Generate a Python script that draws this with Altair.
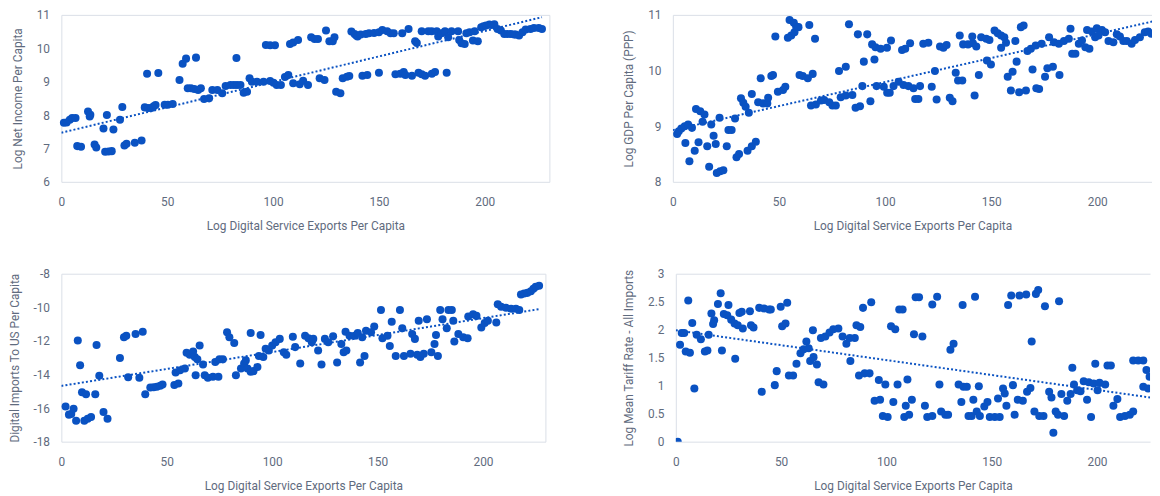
import altair as alt
import pandas as pd

BLUE = "#0a52c2"
FRAME = "#d9dee7"
TEXT = "#5f6b7e"
FONT = "Roboto"

X_TITLE = "Log Digital Service Exports Per Capita"
X_TICKS = [0, 50, 100, 150, 200]

# ---- Panel 1: Log Net Income Per Capita ----
p1_x = [1.2, 2.5, 4.0, 5.1, 6.7, 7.5, 9.3, 12.6, 13.4, 13.7, 15.7, 16.5, 19.9, 20.7, 21.5, 22.3, 23.8, 24.6,
        27.7, 28.8, 29.8, 30.8, 34.7, 37.9, 39.4, 40.5, 41.0, 42.5, 43.6, 44.5, 45.8, 48.8, 50.3, 52.6, 55.8,
        57.3, 58.9, 59.7, 61.2, 62.8, 63.6, 64.6, 65.9, 67.4, 69.8, 71.3, 73.7, 76.0, 77.6, 79.9, 81.5, 82.7,
        83.0, 84.6, 86.1, 87.7, 88.9, 90.0, 92.4, 95.5, 96.6, 98.6, 98.6, 100.2, 100.9, 101.7, 103.7, 105.6,
        107.2, 108.0, 109.5, 109.5, 111.8, 112.6, 114.2, 116.5, 118.0, 119.6, 121.2, 122.0, 124.3, 125.0,
        126.6, 128.2, 129.0, 129.8, 131.8, 132.9, 134.9, 136.0, 137.0, 138.5, 139.3, 139.9, 141.4, 142.2,
        143.8, 144.5, 145.3, 147.7, 150.0, 150.0, 151.6, 153.9, 155.5, 157.0, 157.8, 160.1, 161.0, 161.7,
        162.5, 164.0, 165.6, 167.1, 167.9, 168.7, 170.2, 170.2, 171.8, 173.3, 174.9, 175.0, 176.5, 177.3,
        178.0, 179.6, 181.2, 182.0, 182.7, 184.3, 187.4, 187.9, 189.0, 190.5, 191.3, 192.8, 194.4, 195.2,
        196.7, 198.3, 199.4, 200.6, 202.2, 203.3, 204.5, 206.0, 207.6, 209.2, 210.7, 212.3, 213.9, 214.6,
        216.2, 217.8, 219.3, 221.6, 223.2, 225.5, 227.0]
p1_y = [7.77, 7.78, 7.86, 7.91, 7.91, 7.07, 7.05, 8.11, 7.96, 8.01, 7.12, 7.03, 7.60, 6.90, 8.00, 6.91, 6.92, 7.57,
        7.86, 8.24, 7.09, 7.14, 7.17, 7.24, 8.23, 9.24, 8.21, 8.21, 8.26, 8.30, 9.26, 8.31, 8.31, 8.33, 9.05,
        9.54, 9.69, 8.80, 8.80, 8.78, 9.72, 8.75, 8.80, 8.48, 8.50, 8.75, 8.75, 8.65, 8.87, 8.90, 8.90, 9.71,
        8.90, 8.90, 8.67, 8.70, 9.10, 9.00, 9.00, 9.00, 10.10, 10.09, 9.02, 8.97, 10.09, 8.90, 8.90, 9.14,
        9.20, 10.13, 10.17, 8.95, 10.25, 8.92, 9.03, 8.90, 10.33, 10.28, 10.28, 9.10, 9.05, 10.53,
        10.21, 10.21, 10.33, 8.70, 8.65, 9.10, 9.15, 9.17, 10.50, 10.43, 10.38, 10.35, 10.41, 9.18,
        10.43, 9.20, 10.45, 10.46, 10.48, 9.27, 10.55, 10.51, 10.45, 10.45, 9.22, 9.24, 10.45, 9.29,
        9.20, 10.58, 9.18, 10.21, 10.16, 9.27, 10.51, 9.22, 9.18, 10.51, 10.51, 9.24, 9.29, 10.51,
        10.35, 10.45, 10.51, 9.27, 10.33, 10.51, 10.51, 10.25, 10.15, 10.13, 10.45, 10.48, 10.23, 10.51,
        10.21, 10.63, 10.66, 10.68, 10.71, 10.70, 10.72, 10.58, 10.53, 10.43, 10.43, 10.43, 10.41, 10.41,
        10.38, 10.48, 10.56, 10.58, 10.61, 10.61, 10.58]

# ---- Panel 2: Log GDP Per Capita (PPP) ----
p2_x = [2.0, 2.8, 4.0, 5.6, 7.2, 9.0, 5.9, 7.8, 10.3, 10.9, 12.9, 14.9, 12.1, 14.0, 16.2, 17.1, 18.1, 19.2, 20.2,
        20.7, 22.3, 23.8, 22.0, 25.4, 26.2, 27.7, 29.3, 30.0, 31.2, 32.1, 33.2, 34.3, 35.8, 35.2, 37.2, 39.1,
        37.2, 40.2, 42.5, 44.5, 44.9, 41.4, 46.4, 47.2, 48.3, 49.5, 51.9, 53.0, 54.2, 55.8, 57.3, 58.1, 55.0,
        57.0, 59.2, 59.7, 61.2, 63.6, 65.9, 64.3, 67.0, 65.1, 67.4, 69.8, 71.3, 73.7, 75.2, 76.8, 78.3, 81.5,
        79.1, 81.5, 84.6, 83.0, 86.1, 88.2, 89.3, 87.2, 91.6, 90.0, 95.0, 93.1, 93.9, 95.5, 97.9, 100.9,
        102.8, 96.0, 99.4, 101.0, 102.2, 104.0, 106.4, 108.7, 111.0, 113.4, 116.5, 108.0, 109.5, 111.8,
        114.2, 115.7, 118.0, 120.4, 122.0, 123.5, 124.3, 125.9, 127.5, 129.0, 130.5, 131.8, 133.3, 134.4,
        136.4, 135.2, 136.8, 139.1, 141.4, 143.0, 141.1, 145.3, 147.7, 149.2, 142.2, 144.2, 148.0, 149.9,
        151.6, 153.1, 154.7, 156.2, 157.0, 154.7, 157.8, 160.1, 159.3, 163.2, 166.4, 161.4, 162.0, 164.0,
        165.3, 167.1, 168.7, 171.0, 173.8, 169.5, 171.3, 172.6, 175.4, 176.5, 179.1, 177.3, 179.6, 181.9,
        184.3, 186.6, 187.4, 182.2, 188.2, 189.7, 191.3, 192.8, 194.4, 196.3, 195.2, 197.5, 199.8, 202.2,
        203.7, 199.0, 200.6, 205.3, 207.6, 209.2, 210.7, 212.3, 213.9, 216.2, 217.8, 220.1, 222.4, 224.0,
        225.5, 227.0]
p2_y = [8.86, 8.91, 8.96, 9.00, 9.03, 8.97, 8.70, 8.37, 8.56, 9.31, 9.27, 9.21, 8.71, 9.08, 8.64, 8.27, 9.03, 8.83, 8.68,
        8.16, 8.19, 8.21, 9.15, 8.64, 8.93, 8.93, 9.14, 8.44, 8.50, 9.50, 9.42, 9.35, 9.24, 8.56, 8.64, 8.72,
        9.58, 9.43, 9.41, 9.41, 9.51, 9.86, 9.90, 9.92, 10.61, 9.62, 9.65, 9.71, 10.59, 10.63, 10.69, 10.79, 10.91,
        10.86, 10.78, 9.92, 9.90, 9.86, 9.94, 10.82, 10.57, 9.37, 9.39, 9.46, 9.47, 9.43, 9.37, 9.37, 9.99, 10.07,
        9.52, 9.55, 9.56, 10.83, 9.33, 9.36, 9.72, 10.65, 10.65, 10.16, 10.20, 9.45, 10.47, 10.42, 10.39, 10.41,
        10.54, 9.72, 9.71, 9.60, 9.60, 9.72, 9.80, 9.74, 9.72, 9.68, 9.72, 10.37, 10.39, 10.49,
        9.49, 9.49, 10.48, 10.50, 9.71, 9.99, 9.48, 10.43, 10.41, 10.46, 9.51, 9.45, 9.96, 9.82,
        9.82, 10.63, 10.47, 10.47, 10.49, 10.43, 10.61, 10.60, 10.57, 10.55, 9.55, 9.92, 10.18, 10.11,
        10.72, 10.67, 10.63, 10.60, 10.50, 10.41, 9.89, 9.98, 9.64, 9.61, 9.64, 10.53, 10.16, 10.78,
        10.81, 10.35, 10.39, 10.45, 10.48, 10.02, 9.68, 9.67, 9.89, 10.04, 10.07, 10.60, 10.51, 10.48,
        10.53, 10.57, 10.75, 9.92, 10.30, 10.30, 10.48, 10.54, 10.42, 10.39, 10.73, 10.70, 10.76, 10.73,
        10.69, 10.60, 10.63, 10.53, 10.51, 10.65, 10.61, 10.53, 10.53, 10.48, 10.55, 10.60, 10.69, 10.70,
        10.66, 10.68]

# ---- Panel 3: Digital Imports To US Per Capita ----
p3_x = [2.0, 3.6, 4.7, 5.8, 7.0, 7.8, 8.9, 9.8, 11.7, 10.9, 12.5, 14.1, 16.1, 16.7, 18.0, 20.0, 21.9, 27.8, 29.7,
        30.8, 31.7, 35.2, 38.6, 37.0, 39.8, 42.2, 43.8, 45.3, 46.9, 48.0, 53.6, 55.5, 54.2, 56.3, 58.6, 59.4,
        60.9, 62.5, 63.3, 64.5, 65.6, 63.7, 67.2, 68.0, 69.5, 71.9, 74.5, 73.0, 75.0, 76.6, 78.6, 79.7, 82.0,
        82.8, 85.2, 86.7, 87.5, 88.3, 89.8, 91.1, 93.0, 89.8, 94.5, 93.7, 95.8, 96.9, 98.4, 100.0, 101.6, 103.6,
        105.5, 106.7, 109.8, 110.9, 113.3, 115.6, 117.2, 118.8, 119.5, 121.8, 123.4, 125.0, 126.6, 128.9,
        130.8, 132.8, 133.9, 135.2, 134.8, 136.7, 139.1, 140.6, 142.7, 141.7, 143.8, 144.5, 148.4, 146.9,
        151.6, 152.3, 154.7, 155.8, 156.7, 158.6, 162.5, 165.6, 168.8, 170.3, 171.9, 175.5, 178.6, 160.6,
        161.7, 166.4, 167.7, 169.5, 173.4, 177.0, 177.7, 179.7, 183.6, 185.2, 180.8, 182.8, 185.9, 186.4,
        188.3, 190.6, 192.7, 193.0, 195.3, 196.9, 199.2, 200.8, 202.3, 206.3, 207.0, 208.6, 210.9, 213.3,
        215.6, 217.2, 218.0, 219.5, 221.1, 222.7, 223.9, 225.0, 226.6]
p3_y = [-15.90, -16.39, -16.35, -16.04, -16.75, -11.98, -13.45, -15.06, -15.18, -16.75, -16.63, -16.53, -15.18, -12.24,
        -14.08, -16.24, -16.63, -13.02, -11.78, -11.69, -14.16, -11.59, -11.45, -14.20, -15.18, -14.78, -14.76,
        -14.73, -14.67, -14.59, -14.63, -14.53, -13.88, -13.75, -13.65, -12.71, -12.82, -12.63, -12.96, -13.10,
        -12.27, -14.04, -13.41, -14.04, -14.20, -14.14, -14.14, -13.25, -13.10, -13.10, -11.49, -11.78, -12.12,
        -14.04, -13.65, -13.35, -13.16, -13.65, -13.84, -13.80, -13.55, -11.53, -11.65, -12.90, -12.96, -12.47,
        -12.57, -12.27, -12.08, -11.88, -12.67, -12.82, -11.75, -12.37, -13.35, -11.69, -11.84, -12.08, -11.88,
        -12.57, -13.41, -11.88, -12.08, -11.73, -13.29, -12.18, -12.67, -12.57, -11.45, -11.69, -11.69, -11.53,
        -11.78, -13.29, -12.90, -11.39, -11.14, -11.49, -10.16, -11.84, -11.69, -12.31, -10.86, -12.90, -12.90,
        -12.76, -12.82, -12.96, -12.76, -12.67, -12.90, -10.16, -11.25, -11.59, -11.88, -10.80, -10.71, -12.18,
        -11.65, -10.16, -10.16, -10.16, -10.71, -11.25, -10.80, -12.04, -11.59, -11.78, -11.84, -10.55, -10.41,
        -10.51, -11.20, -10.94, -10.80, -10.90, -9.82, -9.96, -10.02, -10.08, -10.08, -10.16, -9.24, -9.18,
        -9.14, -9.04, -8.90, -8.78, -8.71]

# ---- Panel 4: Log Mean Tariff Rate - All Imports ----
p4_x = [0.9, 2.0, 2.8, 4.0, 4.7, 6.7, 5.9, 7.8, 8.8, 9.9, 11.9, 13.8, 15.0, 15.6, 16.9, 18.2, 17.7, 20.0, 21.3,
        21.9, 22.8, 24.4, 25.0, 26.3, 27.9, 29.4, 31.8, 28.2, 30.2, 31.3, 35.2, 35.7, 36.9, 39.6, 41.9, 44.3,
        45.1, 40.8, 47.0, 47.9, 49.8, 52.9, 50.5, 52.1, 53.7, 55.7, 57.3, 59.2, 60.7, 62.0, 63.1, 63.8, 65.4,
        67.0, 65.1, 67.8, 70.1, 68.9, 71.0, 73.0, 74.8, 77.2, 79.2, 81.0, 82.6, 85.0, 82.9, 85.8, 87.6, 87.0,
        89.7, 92.0, 88.9, 92.8, 94.4, 97.0, 96.4, 99.5, 98.3, 100.6, 102.2, 104.2, 103.3, 105.3, 106.1, 107.7,
        108.5, 110.8, 109.2, 112.1, 110.0, 113.9, 115.5, 113.1, 117.1, 118.3, 119.4, 121.8, 121.8, 124.1,
        125.2, 126.0, 128.0, 129.3, 130.4, 131.9, 134.3, 136.6, 138.2, 135.6, 136.2, 139.0, 140.5, 142.9,
        144.4, 141.3, 142.1, 143.9, 146.5, 148.0, 149.1, 151.5, 153.8, 153.0, 155.4, 156.2, 157.0, 157.8,
        159.3, 163.2, 166.4, 160.1, 160.9, 162.4, 164.8, 166.8, 168.4, 169.0, 170.3, 172.6, 174.6, 171.0,
        172.1, 175.3, 177.3, 178.4, 179.3, 180.4, 181.5, 184.4, 182.0, 183.1, 185.9, 187.5, 188.3, 189.1,
        190.6, 192.2, 193.7, 195.3, 197.2, 196.1, 198.4, 200.3, 201.2, 203.9, 199.2, 205.0, 206.6, 207.8,
        209.7, 211.0, 213.3, 215.6, 217.2, 217.2, 219.6, 222.0, 223.5, 225.0, 222.0, 224.3]
p4_y = [0.00, 1.73, 1.94, 1.94, 1.61, 1.59, 2.52, 2.12, 0.95, 1.91, 1.83, 1.61, 1.63, 1.91, 2.29, 2.17, 2.10, 2.46, 2.65,
        1.63, 2.28, 2.26, 2.44, 2.18, 2.11, 2.08, 2.02, 1.48, 2.30, 2.32, 2.33, 2.08, 2.04, 2.39, 2.38, 2.36,
        2.36, 0.89, 1.01, 1.26, 2.41, 2.48, 2.06, 2.11, 1.18, 1.18, 1.39, 1.58, 1.65, 1.79, 1.67, 1.44, 1.51,
        1.38, 1.99, 1.06, 1.02, 1.85, 1.88, 1.95, 2.01, 2.02, 1.88, 1.75, 1.85, 1.85, 1.44, 2.08, 2.05, 1.18,
        1.22, 1.22, 2.39, 2.49, 0.73, 0.75, 1.10, 1.02, 0.46, 0.44, 2.06, 2.01, 0.71, 1.02, 2.36, 2.36,
        0.44, 0.48, 0.64, 0.75, 1.11, 2.58, 2.58, 1.92, 1.88, 0.64, 0.44, 0.46, 2.45, 2.59,
        1.02, 0.54, 0.48, 0.48, 1.64, 1.75, 1.02, 0.98, 0.98, 0.71, 2.44, 0.46, 0.46, 0.54,
        0.46, 0.75, 2.59, 0.99, 0.63, 0.71, 0.44, 0.44, 0.44, 0.77, 0.95, 0.86, 0.64, 2.44,
        2.61, 2.61, 2.63, 1.01, 0.48, 0.75, 0.73, 0.89, 0.96, 1.79, 0.54, 0.46, 0.46, 2.64,
        2.71, 2.42, 0.89, 0.79, 0.16, 0.54, 0.48, 0.46, 2.51, 0.85, 0.73, 0.85, 1.32, 1.02,
        0.92, 0.90, 1.08, 0.75, 0.44, 1.06, 1.04, 0.92, 1.05, 1.02, 1.39, 1.36, 1.36, 0.64,
        0.76, 0.44, 0.46, 0.48, 0.54, 1.45, 1.45, 1.45, 1.28, 1.16, 0.98, 0.95]

# ---- Linear trend lines (end points) ----
trend_x = [0, 227]
p1_trend = [7.47, 10.93]
p2_trend = [8.93, 10.89]
p3_trend = [-14.68, -10.10]
p4_trend = [1.99, 0.78]


def panel(xs, ys, ty, ydom, yticks, ytitle, xmax, width, height, right_frame, clip):
    df = pd.DataFrame({"x": xs, "y": ys})
    tdf = pd.DataFrame({"x": trend_x, "y": ty})
    xsc = alt.Scale(domain=[0, xmax], nice=False, zero=False)
    ysc = alt.Scale(domain=ydom, nice=False, zero=False)
    xaxis = alt.Axis(values=X_TICKS, title=X_TITLE, grid=False, ticks=False, domain=True,
                     domainColor=FRAME, domainWidth=1, labelPadding=15, titlePadding=13,
                     labelExpr="toString(datum.value)", labelFlush=False)
    yaxis = alt.Axis(values=yticks, title=ytitle, grid=False, ticks=False, domain=True,
                     domainColor=FRAME, domainWidth=1, labelPadding=12, titlePadding=12,
                     labelExpr="toString(datum.value)")
    top_axis = alt.Axis(orient="top", labels=False, ticks=False, domain=True, domainColor=FRAME,
                        domainWidth=1, grid=False, minExtent=0, maxExtent=0)
    right_axis = alt.Axis(orient="right", labels=False, ticks=False, domain=True, domainColor=FRAME,
                          domainWidth=1, grid=False, minExtent=0, maxExtent=0)
    trend = alt.Chart(tdf).mark_line(color=BLUE, strokeWidth=2, strokeDash=[2, 2.2], clip=True).encode(
        x=alt.X("x:Q", scale=xsc, axis=top_axis, title=None),
        y=alt.Y("y:Q", scale=ysc, axis=right_axis if right_frame else None, title=None),
    )
    pts = alt.Chart(df).mark_circle(size=66, color=BLUE, opacity=1, clip=clip).encode(
        x=alt.X("x:Q", scale=xsc, axis=xaxis),
        y=alt.Y("y:Q", scale=ysc, axis=yaxis),
    )
    return alt.layer(trend, pts).resolve_axis(x="independent", y="independent").properties(
        width=width, height=height)


c1 = panel(p1_x, p1_y, p1_trend, [6, 11], [6, 7, 8, 9, 10, 11], "Log Net Income Per Capita",
           230.5, 494, 169, True, False)
c2 = panel(p2_x, p2_y, p2_trend, [8, 11], [8, 9, 10, 11], "Log GDP Per Capita (PPP)",
           225.8, 485, 169, False, True)
c3 = panel(p3_x, p3_y, p3_trend, [-18, -8], [-18, -16, -14, -12, -10, -8], "Digital Imports To US Per Capita",
           229.6, 490, 170, True, False)
c4 = panel(p4_x, p4_y, p4_trend, [0, 3], [0, 0.5, 1, 1.5, 2, 2.5, 3], "Log Mean Tariff Rate - All Imports",
           225.2, 480, 170, False, True)

chart = alt.concat(c1, c2, c3, c4, columns=2, align="none",
                   spacing=alt.RowColnumber(row=37, column=74)).properties(
    padding={"left": 0, "top": -2, "right": 0, "bottom": 0}
).configure(font=FONT).configure_axis(
    labelFont=FONT, labelFontSize=12, labelColor=TEXT,
    titleFont=FONT, titleFontSize=12, titleColor=TEXT, titleFontWeight="normal",
).configure_view(stroke=None)

chart.save("out.html", embed_options={"renderer": "svg", "actions": False})
